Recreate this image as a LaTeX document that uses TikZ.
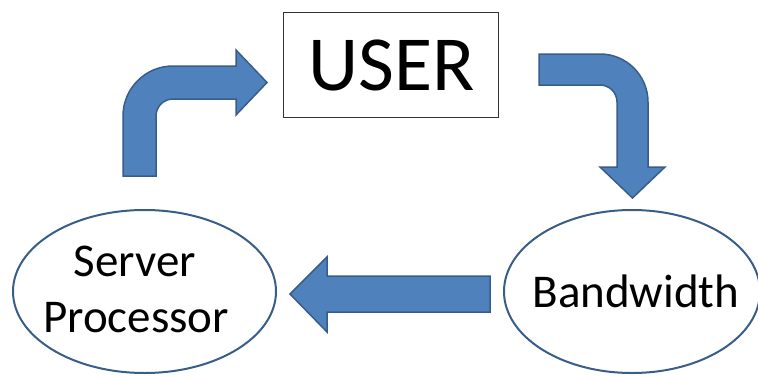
\documentclass[tikz,border=0pt]{standalone}
\usepackage{fontspec}
\setmainfont{Carlito}
\usetikzlibrary{shapes.geometric}
\definecolor{arrowfill}{HTML}{4F81BD}
\definecolor{arrowline}{HTML}{385D8A}
\tikzset{
  blockarrow/.style={fill=arrowfill, draw=arrowline, line width=1.5pt, line join=miter},
  oval/.style={ellipse, draw=arrowline, line width=2pt, inner sep=0pt},
  userbox/.style={draw=black!80, line width=0.9pt, inner sep=0pt},
  lbl/.style={anchor=base, inner sep=0pt, text=black},
  bigtext/.style={font=\fontsize{47}{50}\selectfont}
}
\begin{document}
\begin{tikzpicture}[x=1pt, y=-1pt]
\useasboundingbox (0,0) rectangle (758,375);
% USER box
\node[userbox, minimum width=215pt, minimum height=105pt] (user) at (390.5,64.5) {};
\node[lbl, font=\fontsize{78}{80}\selectfont] (usertext) at (392,90) {USER};
% ellipses
\node[oval, minimum width=263pt, minimum height=163pt] (server) at (144.5,291.5) {};
\node[lbl, bigtext] (servert) at (135,276) {Server};
\node[lbl, bigtext] (proct) at (136,332) {Processor};
\node[oval, minimum width=256pt, minimum height=163pt] (band) at (632,291.5) {};
\node[lbl, bigtext] (bandt) at (636,307) {Bandwidth};
% arrow server -> user
\draw[blockarrow] (123,176) -- (123,116)
  .. controls (123,88.4) and (145.4,66) .. (173,66)
  -- (236,66) -- (236,50) -- (267,82.5) -- (236,115) -- (236,99) -- (173,99)
  .. controls (163.6,99) and (156,106.6) .. (156,116)
  -- (156,176) -- cycle;
% arrow user -> bandwidth
\draw[blockarrow] (539,54) -- (600,54)
  .. controls (626.5,54) and (648,75.5) .. (648,102)
  -- (648,167) -- (665,167) -- (632.5,198) -- (600,167) -- (617,167) -- (617,102)
  .. controls (617,92.6) and (609.4,85) .. (600,85)
  -- (539,85) -- cycle;
% arrow bandwidth -> server
\draw[blockarrow] (490,276) -- (327,276) -- (327,257) -- (290,294) -- (327,332) -- (327,312) -- (490,312) -- cycle;
\end{tikzpicture}
\end{document}
